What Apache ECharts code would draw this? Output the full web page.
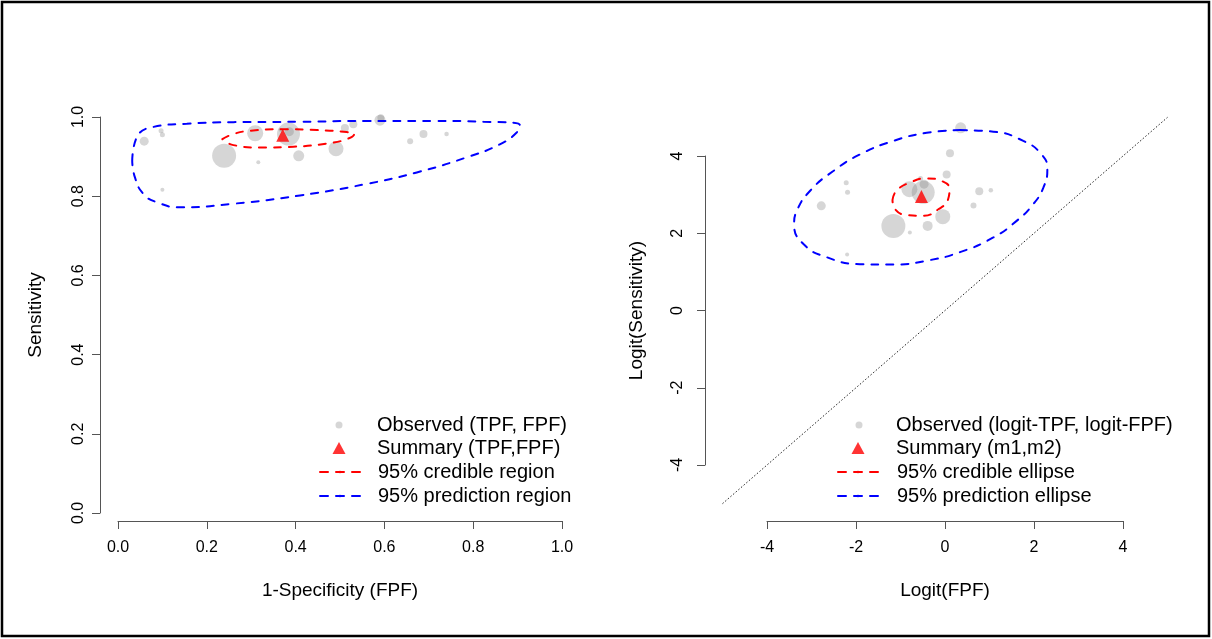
<!DOCTYPE html>
<html><head><meta charset="utf-8">
<script src="https://cdn.jsdelivr.net/npm/echarts@6/dist/echarts.min.js"></script>
<style>html,body{margin:0;padding:0;background:#fff}#c{width:1212px;height:639px}</style>
</head><body><div id="c"></div>
<script>
// ---------- Left panel: (FPF, TPF) space ----------
const fpfObs  = [0.059,0.097,0.100,0.100,0.239,0.309,0.316,0.366,0.384,0.386,0.407,0.491,0.511,0.530,0.590,0.592,0.658,0.688,0.740];
const tpfObs  = [0.939,0.965,0.955,0.816,0.902,0.959,0.886,0.968,0.957,0.963,0.902,0.920,0.972,0.982,0.992,0.998,0.939,0.957,0.957];
const sizeObs = [9,5,5,4,24,16,4,4,23,9,11,15,8,8,11,7,6,8,4.5];
const summaryFpf = [0.371];
const summaryTpf = [0.954];
const credRegionFpf = [0.235,0.260,0.297,0.372,0.448,0.515,0.532,0.515,0.470,0.395,0.320,0.260,0.235];
const credRegionTpf = [0.944,0.957,0.965,0.969,0.967,0.962,0.957,0.944,0.933,0.925,0.923,0.929,0.944];
const predRegionFpf = [0.032,0.042,0.080,0.155,0.260,0.410,0.560,0.710,0.823,0.905,0.898,0.860,0.785,0.673,0.560,0.410,0.260,0.140,0.087,0.057,0.038,0.032];
const predRegionTpf = [0.889,0.948,0.975,0.983,0.987,0.988,0.990,0.990,0.988,0.980,0.961,0.931,0.898,0.860,0.831,0.802,0.781,0.772,0.785,0.806,0.848,0.889];

// ---------- Right panel: logit space ----------
const logitFpfObs  = [0.352,0.112,0.037,-2.22,-2.19,-2.78,-1.16,-0.79,-0.39,-0.05,-0.80,-0.49,-0.47,-0.55,0.77,1.03,0.64,-2.20];
const logitTpfObs  = [4.73,4.07,3.52,3.31,3.06,2.71,2.19,2.02,2.19,2.43,3.14,3.06,3.27,3.42,3.09,3.11,2.72,1.45];
const sizeLogitObs = [11,8,8,5,5,9,24,4,10,15,16,23,9,5,8,4.5,6,4];
const summaryM2 = [-0.53];
const summaryM1 = [2.95];
const credEllX = [-1.18,-1.09,-0.79,-0.41,-0.07,0.10,0.07,-0.15,-0.49,-0.86,-1.12,-1.18];
const credEllY = [2.86,3.10,3.31,3.42,3.35,3.14,2.88,2.62,2.45,2.47,2.62,2.86];
const predEllX = [0.337,1.085,1.76,2.17,2.30,2.21,1.98,1.61,1.085,0.337,-0.41,-1.16,-1.91,-2.66,-3.18,-3.39,-3.33,-3.03,-2.51,-1.91,-1.16,-0.41,0.337];
const predEllY = [4.67,4.63,4.39,4.04,3.66,3.18,2.75,2.32,1.89,1.51,1.29,1.19,1.20,1.38,1.72,2.24,2.58,3.10,3.61,4.04,4.39,4.60,4.67];
const diagX = [-5, 5];
const diagY = [-5, 5];

const zip2 = (a,b) => a.map((v,i)=>[v,b[i]]);
const zip3 = (a,b,c) => a.map((v,i)=>[v,b[i],c[i]]);

const FONT = 'Liberation Sans, Arial, sans-serif';
const axisCol = '#555';
const ptCol = 'rgba(128,128,128,0.4)';
const DASH = [7,8];
const LEG_DASH = [8,8];

function xAx(gi, min, max, interval, name, offset, fmt){
  return {gridIndex:gi, type:'value', min, max, interval, offset,
    name, nameLocation:'middle', nameGap:60,
    nameTextStyle:{fontFamily:FONT, fontSize:19, color:'#000'},
    axisLine:{show:true, onZero:false, lineStyle:{color:axisCol, width:1}},
    axisTick:{show:true, length:8, lineStyle:{color:axisCol}},
    axisLabel:{fontFamily:FONT, fontSize:16, color:'#000', margin:19, formatter:fmt},
    splitLine:{show:false}};
}
function yAx(gi, min, max, interval, name, offset, fmt, margin, gap){
  return {gridIndex:gi, type:'value', min, max, interval, offset,
    name, nameLocation:'middle', nameGap:gap, nameRotate:90,
    nameTextStyle:{fontFamily:FONT, fontSize:19, color:'#000'},
    axisLine:{show:true, onZero:false, lineStyle:{color:axisCol, width:1}},
    axisTick:{show:true, length:8, lineStyle:{color:axisCol}},
    axisLabel:{fontFamily:FONT, fontSize:16, color:'#000', margin, rotate:90, formatter:fmt},
    splitLine:{show:false}};
}
function hiddenAx(gi, min, max){
  return {gridIndex:gi, type:'value', min, max, show:false, splitLine:{show:false}};
}
const fmt1 = v => v.toFixed(1);
const fmt0 = v => String(v);

function leg(left, top, names, w, h, gap, pad){
  return {left, top, orient:'vertical', padding:0, itemGap:gap, itemWidth:w, itemHeight:h,
    data:names, selectedMode:false,
    lineStyle:{width:2, type:LEG_DASH},
    textStyle:{fontFamily:FONT, fontSize:20, color:'#000', lineHeight:20, padding:[0,0,0,pad]}};
}

const option = {
  backgroundColor:'#fff',
  animation:false,
  grid:[
    {left:118, top:117, width:444, height:396},
    {left:767, top:156, width:356, height:309},
    {left:704.7, top:101.9, width:480.6, height:417.2}
  ],
  xAxis:[
    xAx(0, 0, 1, 0.2, '1-Specificity (FPF)', 8, fmt1),
    xAx(1, -4, 4, 2, 'Logit(FPF)', 56, fmt0),
    hiddenAx(2, -5.4, 5.4)
  ],
  yAxis:[
    yAx(0, 0, 1, 0.2, 'Sensitivity', 18, fmt1, 13, 55),
    yAx(1, -4, 4, 2, 'Logit(Sensitivity)', 62, fmt0, 19, 59),
    hiddenAx(2, -5.4, 5.4)
  ],
  legend:[
    leg(335.5, 415, ['Observed (TPF, FPF)'], 7, 7, 4, 29.5),
    leg(332.5, 438, ['Summary (TPF,FPF)'], 13, 12, 4, 26.5),
    leg(319, 462, ['95% credible region','95% prediction region'], 40, 3, 4, 13),
    leg(855.5, 415, ['Observed (logit-TPF, logit-FPF)'], 7, 7, 4, 28.5),
    leg(851.5, 438, ['Summary (m1,m2)'], 13, 12, 4, 26.5),
    leg(837, 462, ['95% credible ellipse','95% prediction ellipse'], 40, 3, 4, 14)
  ],
  graphic:[
    {type:'rect', shape:{x:2, y:2, width:1207, height:634}, style:{fill:null, stroke:'#000', lineWidth:2.5}, silent:true}
  ],
  series:[
    {name:'Observed (TPF, FPF)', type:'scatter', xAxisIndex:0, yAxisIndex:0, z:2,
      data:zip3(fpfObs,tpfObs,sizeObs), symbol:'circle', symbolSize:v=>v[2],
      itemStyle:{color:ptCol}},
    {name:'95% credible region', type:'line', xAxisIndex:0, yAxisIndex:0, z:3,
      data:zip2(credRegionFpf,credRegionTpf), smooth:0.5, symbol:'none',
      lineStyle:{color:'#ff0000', width:2, type:DASH, cap:'round'}, itemStyle:{color:'#ff0000'}},
    {name:'95% prediction region', type:'line', xAxisIndex:0, yAxisIndex:0, z:3,
      data:zip2(predRegionFpf,predRegionTpf), smooth:0.5, symbol:'none',
      lineStyle:{color:'#0000ff', width:2, type:DASH, cap:'round'}, itemStyle:{color:'#0000ff'}},
    {name:'Summary (TPF,FPF)', type:'scatter', xAxisIndex:0, yAxisIndex:0, z:4,
      data:zip2(summaryFpf,summaryTpf), symbol:'triangle', symbolSize:13,
      itemStyle:{color:'#ff0000'}},

    {name:'Observed (logit-TPF, logit-FPF)', type:'scatter', xAxisIndex:2, yAxisIndex:2, z:2,
      data:zip3(logitFpfObs,logitTpfObs,sizeLogitObs), symbol:'circle', symbolSize:v=>v[2],
      itemStyle:{color:ptCol}},
    {name:'diag', type:'line', xAxisIndex:2, yAxisIndex:2, z:1,
      data:zip2(diagX,diagY), symbol:'none', silent:true,
      lineStyle:{color:'#222', width:1, type:[1.5,2]}},
    {name:'95% credible ellipse', type:'line', xAxisIndex:2, yAxisIndex:2, z:3,
      data:zip2(credEllX,credEllY), smooth:0.5, symbol:'none',
      lineStyle:{color:'#ff0000', width:2, type:DASH, cap:'round'}, itemStyle:{color:'#ff0000'}},
    {name:'95% prediction ellipse', type:'line', xAxisIndex:2, yAxisIndex:2, z:3,
      data:zip2(predEllX,predEllY), smooth:0.5, symbol:'none',
      lineStyle:{color:'#0000ff', width:2, type:DASH, cap:'round'}, itemStyle:{color:'#0000ff'}},
    {name:'Summary (m1,m2)', type:'scatter', xAxisIndex:2, yAxisIndex:2, z:4,
      data:zip2(summaryM2,summaryM1), symbol:'triangle', symbolSize:13,
      itemStyle:{color:'#ff0000'}}
  ]
};
const chart = echarts.init(document.getElementById('c'), null, {renderer:'canvas'});
chart.setOption(option);
</script></body></html>
